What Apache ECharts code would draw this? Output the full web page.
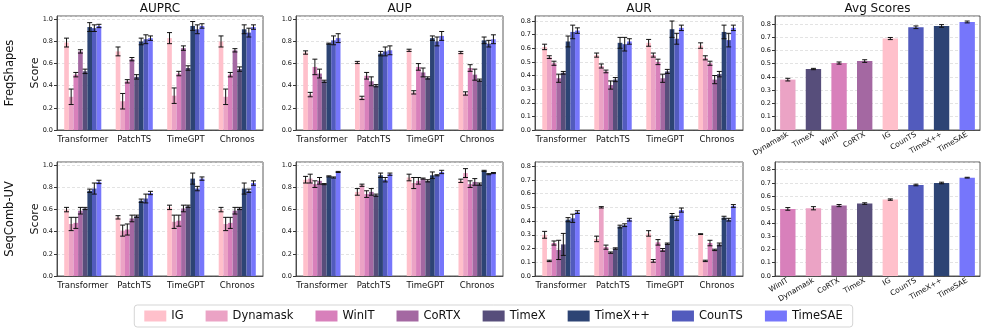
<!DOCTYPE html>
<html>
<head>
<meta charset="utf-8">
<script src="https://cdn.jsdelivr.net/npm/echarts@6/dist/echarts.min.js"></script>
<style>
  html, body { margin: 0; padding: 0; background: #fff; }
  #chart { width: 987px; height: 330px; }
</style>
</head>
<body>
<div id="chart"></div>
<script>
const methods = ['IG', 'Dynamask', 'WinIT', 'CoRTX', 'TimeX', 'TimeX++', 'CounTS', 'TimeSAE'];
const colors = ['#ffc0cb', '#eba3c5', '#d880bb', '#a468a2', '#574e7b', '#2d4474', '#525bbd', '#7676fb'];
const models = ['Transformer', 'PatchTS', 'TimeGPT', 'Chronos'];

// rows = methods, columns = models
const fsAuprc = [
    [0.79, 0.71, 0.83, 0.80], [0.30, 0.26, 0.31, 0.30], [0.50, 0.44, 0.51, 0.50], [0.71, 0.64, 0.74, 0.72],
    [0.53, 0.48, 0.56, 0.55], [0.93, 0.80, 0.94, 0.91], [0.92, 0.82, 0.91, 0.88], [0.94, 0.83, 0.94, 0.93]
];
const fsAuprcErr = [
    [0.04, 0.04, 0.05, 0.05], [0.07, 0.07, 0.07, 0.07], [0.02, 0.015, 0.02, 0.02], [0.015, 0.015, 0.02, 0.015],
    [0.02, 0.02, 0.02, 0.02], [0.04, 0.03, 0.04, 0.04], [0.03, 0.04, 0.04, 0.04], [0.015, 0.02, 0.02, 0.02]
];
const fsAup = [
    [0.70, 0.61, 0.72, 0.70], [0.32, 0.29, 0.34, 0.33], [0.57, 0.49, 0.57, 0.56], [0.51, 0.44, 0.52, 0.50],
    [0.44, 0.40, 0.47, 0.45], [0.78, 0.69, 0.83, 0.81], [0.81, 0.71, 0.80, 0.78], [0.83, 0.72, 0.85, 0.82]
];
const fsAupErr = [
    [0.015, 0.01, 0.01, 0.01], [0.02, 0.015, 0.015, 0.015], [0.07, 0.03, 0.03, 0.03], [0.04, 0.04, 0.04, 0.05],
    [0.01, 0.01, 0.01, 0.01], [0.005, 0.02, 0.02, 0.03], [0.04, 0.04, 0.04, 0.03], [0.04, 0.04, 0.04, 0.04]
];
const fsAur = [
    [0.61, 0.55, 0.64, 0.62], [0.535, 0.47, 0.55, 0.53], [0.49, 0.43, 0.50, 0.49], [0.38, 0.33, 0.38, 0.37],
    [0.42, 0.37, 0.43, 0.41], [0.65, 0.64, 0.74, 0.72], [0.72, 0.63, 0.67, 0.66], [0.73, 0.65, 0.75, 0.75]
];
const fsAurErr = [
    [0.02, 0.015, 0.025, 0.02], [0.01, 0.015, 0.015, 0.015], [0.015, 0.01, 0.02, 0.015], [0.03, 0.03, 0.03, 0.03],
    [0.01, 0.015, 0.015, 0.02], [0.04, 0.04, 0.06, 0.05], [0.05, 0.05, 0.04, 0.05], [0.02, 0.02, 0.02, 0.02]
];
const scAuprc = [
    [0.60, 0.53, 0.62, 0.60], [0.47, 0.41, 0.49, 0.47], [0.48, 0.42, 0.50, 0.48], [0.59, 0.52, 0.61, 0.59],
    [0.61, 0.54, 0.63, 0.61], [0.77, 0.68, 0.88, 0.79], [0.79, 0.70, 0.79, 0.77], [0.85, 0.75, 0.88, 0.84]
];
const scAuprcErr = [
    [0.02, 0.015, 0.02, 0.02], [0.06, 0.05, 0.06, 0.06], [0.05, 0.05, 0.05, 0.05], [0.03, 0.03, 0.03, 0.03],
    [0.01, 0.01, 0.01, 0.01], [0.015, 0.015, 0.05, 0.05], [0.05, 0.04, 0.02, 0.015], [0.015, 0.015, 0.015, 0.02]
];
const scAup = [
    [0.87, 0.76, 0.89, 0.86], [0.88, 0.82, 0.84, 0.93], [0.83, 0.74, 0.86, 0.83], [0.86, 0.76, 0.88, 0.85],
    [0.83, 0.73, 0.86, 0.83], [0.90, 0.91, 0.91, 0.95], [0.89, 0.87, 0.91, 0.92], [0.94, 0.92, 0.94, 0.93]
];
const scAupErr = [
    [0.03, 0.03, 0.03, 0.015], [0.04, 0.01, 0.05, 0.04], [0.03, 0.03, 0.03, 0.03], [0.03, 0.03, 0.005, 0.03],
    [0.005, 0.01, 0.01, 0.01], [0.005, 0.02, 0.03, 0.005], [0.005, 0.02, 0.005, 0.005], [0.005, 0.01, 0.015, 0.005]
];
const scAur = [
    [0.30, 0.27, 0.31, 0.305], [0.11, 0.50, 0.11, 0.11], [0.24, 0.21, 0.245, 0.24], [0.19, 0.17, 0.19, 0.19],
    [0.23, 0.20, 0.235, 0.23], [0.41, 0.36, 0.44, 0.425], [0.42, 0.37, 0.42, 0.41], [0.465, 0.41, 0.48, 0.51]
];
const scAurErr = [
    [0.025, 0.02, 0.02, 0.003], [0.005, 0.005, 0.01, 0.005], [0.015, 0.015, 0.02, 0.02], [0.07, 0.005, 0.01, 0.005],
    [0.08, 0.005, 0.005, 0.01], [0.015, 0.01, 0.015, 0.01], [0.03, 0.01, 0.015, 0.01], [0.01, 0.01, 0.015, 0.01]
];

const fsAvgOrder = ['Dynamask', 'TimeX', 'WinIT', 'CoRTX', 'IG', 'CounTS', 'TimeX++', 'TimeSAE'];
const fsAvg = [0.38, 0.46, 0.505, 0.52, 0.69, 0.775, 0.785, 0.815];
const fsAvgErr = [0.01, 0.005, 0.008, 0.01, 0.008, 0.01, 0.01, 0.007];
const scAvgOrder = ['WinIT', 'Dynamask', 'CoRTX', 'TimeX', 'IG', 'CounTS', 'TimeX++', 'TimeSAE'];
const scAvg = [0.505, 0.51, 0.53, 0.545, 0.575, 0.685, 0.70, 0.74];
const scAvgErr = [0.01, 0.012, 0.008, 0.006, 0.005, 0.006, 0.006, 0.003];

const FONT = 'DejaVu Sans';
const lefts = [57, 296, 535, 775];
const widths = [206, 207, 208, 205];
const tops = [16, 162];
const height = 114;
const GROUP_GAP = 0.28;
const AVG_GAP = 0.4;

// panels: [row, col, kind, means, errs, axisMax, interval]
const panels = [
    [0, 0, 'group', fsAuprc, fsAuprcErr, 1.03, 0.2],
    [0, 1, 'group', fsAup, fsAupErr, 1.03, 0.2],
    [0, 2, 'group', fsAur, fsAurErr, 0.837, 0.1],
    [0, 3, 'avg', fsAvg, fsAvgErr, 0.86, 0.1, fsAvgOrder],
    [1, 0, 'group', scAuprc, scAuprcErr, 1.03, 0.2],
    [1, 1, 'group', scAup, scAupErr, 1.03, 0.2],
    [1, 2, 'group', scAur, scAurErr, 0.83, 0.1],
    [1, 3, 'avg', scAvg, scAvgErr, 0.858, 0.1, scAvgOrder]
];

const grids = [], xAxes = [], yAxes = [], series = [];

function errorItem(gap, nBars) {
    return function (params, api) {
        const cat = api.value(0), m = api.value(1), v = api.value(2), e = api.value(3);
        const band = api.size([1, 0])[0];
        const gw = band * (1 - gap);
        const w = gw / nBars;
        const x = api.coord([cat, v])[0] - gw / 2 + (m + 0.5) * w;
        const y1 = api.coord([cat, v + e])[1];
        const y2 = api.coord([cat, v - e])[1];
        const c = 2.5;
        const st = { stroke: '#111', lineWidth: 1 };
        return {
            type: 'group',
            children: [
                { type: 'line', shape: { x1: x, y1: y1, x2: x, y2: y2 }, style: st },
                { type: 'line', shape: { x1: x - c, y1: y1, x2: x + c, y2: y1 }, style: st },
                { type: 'line', shape: { x1: x - c, y1: y2, x2: x + c, y2: y2 }, style: st }
            ]
        };
    };
}

panels.forEach(function (p, i) {
    const [row, col, kind, means, errs, max, interval, order] = p;
    grids.push({
        left: lefts[col], top: tops[row], width: widths[col], height: height,
        show: true, borderColor: '#333', borderWidth: 0.8, backgroundColor: 'transparent'
    });
    const isAvg = kind === 'avg';
    xAxes.push({
        type: 'category', gridIndex: i,
        data: isAvg ? order : models,
        axisLine: { lineStyle: { color: '#333', width: 0.8 } },
        axisTick: { alignWithLabel: true, length: 3, lineStyle: { color: '#333' } },
        axisLabel: {
            fontFamily: FONT, fontSize: isAvg ? 7.5 : 8.5, color: '#111', margin: isAvg ? 4 : 5,
            rotate: isAvg ? 30 : 0, interval: 0
        }
    });
    yAxes.push({
        type: 'value', gridIndex: i, min: 0, max: max, interval: interval,
        axisLine: { show: true, lineStyle: { color: '#333', width: 0.8 } },
        axisTick: { show: true, length: 3, lineStyle: { color: '#333' } },
        axisLabel: {
            fontFamily: FONT, fontSize: 6.5, color: '#111', margin: 4, showMaxLabel: false,
            formatter: function (v) { return v.toFixed(1); }
        },
        splitLine: { show: true, lineStyle: { color: '#d0d0d0', type: [3, 2], width: 0.6 } }
    });
    const errData = [];
    if (isAvg) {
        series.push({
            type: 'bar', xAxisIndex: i, yAxisIndex: i, barCategoryGap: (AVG_GAP * 100) + '%',
            data: means.map(function (v, k) {
                return { value: v, itemStyle: { color: colors[methods.indexOf(order[k])] } };
            }),
            silent: true
        });
        means.forEach(function (v, k) { errData.push([k, 0, v, errs[k]]); });
        series.push({
            type: 'custom', xAxisIndex: i, yAxisIndex: i, z: 5, silent: true,
            renderItem: errorItem(AVG_GAP, 1), data: errData, encode: { x: 0, y: 2 }
        });
    } else {
        methods.forEach(function (name, m) {
            series.push({
                name: name, type: 'bar', xAxisIndex: i, yAxisIndex: i,
                barGap: '0%', barCategoryGap: (GROUP_GAP * 100) + '%',
                itemStyle: { color: colors[m] }, data: means[m], silent: true
            });
            means[m].forEach(function (v, c) { errData.push([c, m, v, errs[m][c]]); });
        });
        series.push({
            type: 'custom', xAxisIndex: i, yAxisIndex: i, z: 5, silent: true,
            renderItem: errorItem(GROUP_GAP, methods.length), data: errData, encode: { x: 0, y: 2 }
        });
    }
});

const titles = ['AUPRC', 'AUP', 'AUR', 'Avg Scores'];
const graphics = [];
titles.forEach(function (t, c) {
    graphics.push({
        type: 'text', x: lefts[c] + widths[c] / 2, y: 9,
        style: { text: t, fontFamily: FONT, fontSize: 12, fill: '#111', align: 'center', verticalAlign: 'middle' }
    });
});
['FreqShapes', 'SeqComb-UV'].forEach(function (t, r) {
    const cy = tops[r] + height / 2;
    graphics.push({
        type: 'text', x: 10, y: cy, rotation: Math.PI / 2,
        style: { text: t, fontFamily: FONT, fontSize: 11.5, fill: '#111', align: 'center', verticalAlign: 'middle' }
    });
    graphics.push({
        type: 'text', x: 35, y: cy, rotation: Math.PI / 2,
        style: { text: 'Score', fontFamily: FONT, fontSize: 11, fill: '#111', align: 'center', verticalAlign: 'middle' }
    });
});

const chart = echarts.init(document.getElementById('chart'), null, { renderer: 'canvas' });
chart.setOption({
    animation: false,
    backgroundColor: '#fff',
    grid: grids,
    xAxis: xAxes,
    yAxis: yAxes,
    series: series,
    graphic: graphics,
    legend: {
        data: methods,
        bottom: 3, left: 'center',
        icon: 'rect', itemWidth: 22, itemHeight: 11, itemGap: 22,
        textStyle: { fontFamily: FONT, fontSize: 11.5, color: '#111' },
        borderColor: '#d5d5d5', borderWidth: 1, borderRadius: 3, padding: [5, 10],
        selectedMode: false
    }
});
window.onresize = function () { chart.resize(); };
</script>
</body>
</html>
